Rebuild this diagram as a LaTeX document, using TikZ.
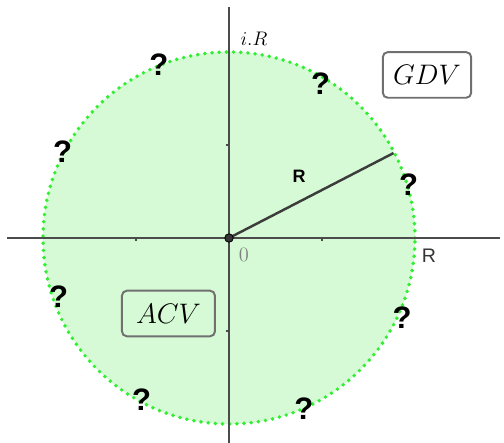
\documentclass[tikz,border=0pt]{standalone}
\usepackage{fontspec}
\setsansfont{Liberation Sans}
\usetikzlibrary{positioning}
\definecolor{diskfill}{RGB}{213,250,213}
\definecolor{diskdots}{RGB}{50,238,50}
\definecolor{axisgray}{RGB}{75,75,75}
\definecolor{boxgray}{RGB}{112,112,112}
\begin{document}
\begin{tikzpicture}[x=2cm,y=2cm,
		axis/.style={draw=axisgray, line width=0.7pt},
		tick/.style={draw=axisgray, line width=0.7pt},
		disk/.style={fill=diskfill, draw=diskdots, line width=2.4pt, line cap=round, dash pattern=on 0pt off 4.4pt},
		qmark/.style={font=\sffamily\bfseries\fontsize{19}{20}\selectfont, inner sep=0pt},
		valbox/.style={draw=boxgray, line width=1.2pt, rounded corners=3pt, minimum width=1.9cm, minimum height=0.98cm, font=\fontsize{17}{19}\selectfont},
		radius/.style={draw=axisgray!80!black, line width=1.5pt}
		]
		\useasboundingbox (-2.4624,-2.2043) rectangle (2.957,2.559);
		
		% --- Disk ---
		\coordinate (O) at (0,0);
		\draw[disk] (O) circle (2);
		
		% --- Axes ---
		\coordinate (xl) at (-2.387,0);
		\coordinate (xr) at (2.914,0);
		\coordinate (yb) at (0,-2.21);
		\coordinate (yt) at (0,2.484);
		\draw[axis] (xl) -- (xr);
		\draw[axis] (yb) -- (yt);
		\foreach \t in {-1,1} {
			\draw[tick] (\t,0) -- (\t,-0.035);
			\draw[tick] (0,\t) -- (-0.035,\t);
		}
		
		% --- Labels ---
		\node (imlabel) at (0.269,2.145) {\fontsize{12}{14}\selectfont$i.R$};
		\node[text=gray] (zero) at (0.161,-0.179) {\fontsize{12.5}{14}\selectfont 0};
		\node[text=axisgray!70!black] (relabel) at (2.151,-0.188) {\sffamily\fontsize{12}{14}\selectfont R};
		
		% --- Radius ---
		\coordinate (rim) at (27.3:1.99);
		\draw[radius] (O) -- (rim);
		\node (rlabel) at (0.753,0.667) {\sffamily\bfseries\fontsize{11}{13}\selectfont R};
		\fill[axisgray!70!black, draw=black, line width=0.5pt] (O) circle (2.6pt);
		
		% --- Boxes ---
		\node[valbox] (gdv) at (2.129,1.753) {$GDV$};
		\node[valbox, minimum width=2.0cm] (acv) at (-0.651,-0.812) {$ACV$};
		
		% --- Question marks ---
		\foreach \x/\y [count=\i] in {-0.753/1.860, 0.984/1.661, -1.790/0.925, 1.930/0.570,
			-1.833/-0.629, 1.860/-0.855, -0.941/-1.742, 0.806/-1.833}
		\node[qmark] (q\i) at (\x,\y) {?};
		
	\end{tikzpicture}
\end{document}
